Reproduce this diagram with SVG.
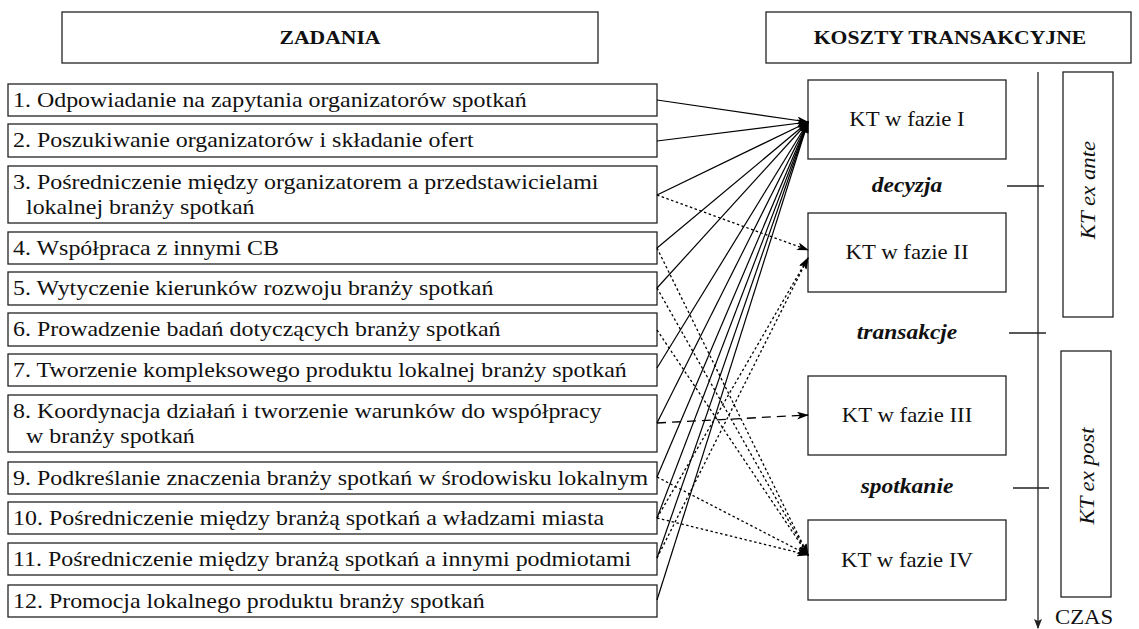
<svg xmlns="http://www.w3.org/2000/svg" width="1139" height="629" viewBox="0 0 1139 629" font-family="'Liberation Serif', 'DejaVu Serif', serif">
  <defs>
    <style>
      .box { fill: #fff; stroke: #222; stroke-width: 1.3; }
      .txt { font-family: 'Liberation Serif', 'DejaVu Serif', serif; fill: #111; }
      .task { font-size: 21px; }
      .head { font-size: 19px; font-weight: bold; text-anchor: middle; }
      .kt { font-size: 20px; text-anchor: middle; }
      .stage { font-size: 21px; font-weight: bold; font-style: italic; text-anchor: middle; }
      .side { font-size: 20px; font-style: italic; text-anchor: middle; }
      .czas { font-size: 20px; }
      .solid { fill: none; stroke: #000; stroke-width: 1.2; marker-end: url(#arr); }
      .dot { fill: none; stroke: #000; stroke-width: 1.3; stroke-dasharray: 2.5 2.5; marker-end: url(#arr); }
      .dash { fill: none; stroke: #000; stroke-width: 1.3; stroke-dasharray: 9 6; marker-end: url(#arr); }
      .axis { fill: none; stroke: #222; stroke-width: 1.3; }
    </style>
    <marker id="arr" viewBox="0 0 12 8" refX="11" refY="4" markerWidth="12" markerHeight="8" markerUnits="userSpaceOnUse" orient="auto">
      <path d="M0,0 L12,4 L0,8 L3,4 Z" fill="#000"/>
    </marker>
    <marker id="down" viewBox="0 0 10 8" refX="9" refY="4" markerWidth="10" markerHeight="8" markerUnits="userSpaceOnUse" orient="auto">
      <path d="M0,0 L10,4 L0,8 L2,4 Z" fill="#222"/>
    </marker>
  </defs>

  <!-- column headers -->
  <g id="hdr-zadania">
    <rect class="box" x="62" y="12" width="536" height="51"/>
    <text class="txt head" transform="translate(330,44) scale(1.14,1)">ZADANIA</text>
  </g>
  <g id="hdr-koszty">
    <rect class="box" x="766" y="12" width="365" height="51"/>
    <text class="txt head" transform="translate(950,44) scale(1.14,1)">KOSZTY TRANSAKCYJNE</text>
  </g>

  <!-- tasks -->
  <g id="task-1">
    <rect class="box" x="8" y="84" width="649" height="32"/>
    <text class="txt task" transform="translate(13,107) scale(1.14,1)">1. Odpowiadanie na zapytania organizatorów spotkań</text>
  </g>
  <g id="task-2">
    <rect class="box" x="8" y="124" width="649" height="33"/>
    <text class="txt task" transform="translate(13,147) scale(1.14,1)">2. Poszukiwanie organizatorów i składanie ofert</text>
  </g>
  <g id="task-3">
    <rect class="box" x="8" y="166" width="649" height="57"/>
    <text class="txt task" transform="translate(13,189) scale(1.14,1)">3. Pośredniczenie między organizatorem a przedstawicielami</text>
    <text class="txt task" transform="translate(26,214) scale(1.14,1)">lokalnej branży spotkań</text>
  </g>
  <g id="task-4">
    <rect class="box" x="8" y="232" width="649" height="32"/>
    <text class="txt task" transform="translate(13,255) scale(1.14,1)">4. Współpraca z innymi CB</text>
  </g>
  <g id="task-5">
    <rect class="box" x="8" y="272" width="649" height="33"/>
    <text class="txt task" transform="translate(13,295) scale(1.14,1)">5. Wytyczenie kierunków rozwoju branży spotkań</text>
  </g>
  <g id="task-6">
    <rect class="box" x="8" y="313" width="649" height="33"/>
    <text class="txt task" transform="translate(13,336) scale(1.14,1)">6. Prowadzenie badań dotyczących branży spotkań</text>
  </g>
  <g id="task-7">
    <rect class="box" x="8" y="354" width="649" height="32"/>
    <text class="txt task" transform="translate(13,377) scale(1.14,1)">7. Tworzenie kompleksowego produktu lokalnej branży spotkań</text>
  </g>
  <g id="task-8">
    <rect class="box" x="8" y="395" width="649" height="57"/>
    <text class="txt task" transform="translate(13,418) scale(1.14,1)">8. Koordynacja działań i tworzenie warunków do współpracy</text>
    <text class="txt task" transform="translate(26,443) scale(1.14,1)">w branży spotkań</text>
  </g>
  <g id="task-9">
    <rect class="box" x="8" y="462" width="649" height="32"/>
    <text class="txt task" transform="translate(13,485) scale(1.14,1)">9. Podkreślanie znaczenia branży spotkań w środowisku lokalnym</text>
  </g>
  <g id="task-10">
    <rect class="box" x="8" y="502" width="649" height="32"/>
    <text class="txt task" transform="translate(13,525) scale(1.14,1)">10. Pośredniczenie między branżą spotkań a władzami miasta</text>
  </g>
  <g id="task-11">
    <rect class="box" x="8" y="543" width="649" height="32"/>
    <text class="txt task" transform="translate(13,566) scale(1.14,1)">11. Pośredniczenie między branżą spotkań a innymi podmiotami</text>
  </g>
  <g id="task-12">
    <rect class="box" x="8" y="585" width="649" height="32"/>
    <text class="txt task" transform="translate(13,608) scale(1.14,1)">12. Promocja lokalnego produktu branży spotkań</text>
  </g>

  <!-- cost phases -->
  <g id="kt-1">
    <rect class="box" x="808" y="80" width="198" height="79"/>
    <text class="txt kt" transform="translate(907,126) scale(1.14,1)">KT w fazie I</text>
  </g>
  <g id="kt-2">
    <rect class="box" x="808" y="213" width="198" height="79"/>
    <text class="txt kt" transform="translate(907,259) scale(1.14,1)">KT w fazie II</text>
  </g>
  <g id="kt-3">
    <rect class="box" x="808" y="376" width="198" height="79"/>
    <text class="txt kt" transform="translate(907,422) scale(1.14,1)">KT w fazie III</text>
  </g>
  <g id="kt-4">
    <rect class="box" x="808" y="520" width="198" height="80"/>
    <text class="txt kt" transform="translate(907,567) scale(1.14,1)">KT w fazie IV</text>
  </g>

  <!-- stage labels between phases -->
  <g id="stage-decyzja">
    <text class="txt stage" transform="translate(907,192) scale(1.12,1)">decyzja</text>
  </g>
  <g id="stage-transakcje">
    <text class="txt stage" transform="translate(907,339) scale(1.12,1)">transakcje</text>
  </g>
  <g id="stage-spotkanie">
    <text class="txt stage" transform="translate(907,493) scale(1.12,1)">spotkanie</text>
  </g>

  <!-- time axis with stage ticks -->
  <g id="time-axis">
    <line class="axis" x1="1038" y1="72" x2="1038" y2="628" marker-end="url(#down)"/>
    <line class="axis" x1="1007" y1="186" x2="1044" y2="186"/>
    <line class="axis" x1="1009" y1="333" x2="1046" y2="333"/>
    <line class="axis" x1="1013" y1="488" x2="1049" y2="488"/>
    <text class="txt czas" transform="translate(1055,624) scale(1.14,1)">CZAS</text>
  </g>

  <!-- ex ante / ex post brackets -->
  <g id="ex-ante">
    <rect class="box" x="1063" y="72" width="50" height="245"/>
    <text class="txt side" transform="translate(1095,190) rotate(-90) scale(1.14,1)">KT ex ante</text>
  </g>
  <g id="ex-post">
    <rect class="box" x="1061" y="351" width="50" height="246"/>
    <text class="txt side" transform="translate(1094,476) rotate(-90) scale(1.14,1)">KT ex post</text>
  </g>

  <!-- connectors: tasks to cost phases -->
  <g id="connectors">
    <line class="solid" x1="657" y1="100" x2="808" y2="122"/>
    <line class="solid" x1="657" y1="141" x2="808" y2="122"/>
    <line class="solid" x1="657" y1="195" x2="808" y2="122"/>
    <line class="solid" x1="657" y1="248" x2="808" y2="122"/>
    <line class="solid" x1="657" y1="288" x2="808" y2="122"/>
    <line class="solid" x1="657" y1="368" x2="808" y2="122"/>
    <line class="solid" x1="657" y1="423" x2="808" y2="122"/>
    <line class="solid" x1="657" y1="477" x2="808" y2="122"/>
    <line class="solid" x1="657" y1="518" x2="808" y2="122"/>
    <line class="solid" x1="657" y1="558" x2="808" y2="122"/>
    <line class="solid" x1="657" y1="600" x2="808" y2="122"/>

    <line class="dot" x1="657" y1="195" x2="808" y2="250"/>
    <line class="dot" x1="657" y1="518" x2="808" y2="258"/>
    <line class="dot" x1="657" y1="558" x2="808" y2="258"/>

    <line class="dash" x1="657" y1="423" x2="808" y2="415"/>

    <line class="dot" x1="657" y1="248" x2="808" y2="555"/>
    <line class="dot" x1="657" y1="288" x2="808" y2="555"/>
    <line class="dot" x1="657" y1="330" x2="808" y2="555"/>
    <line class="dot" x1="657" y1="477" x2="808" y2="555"/>
    <line class="dot" x1="657" y1="518" x2="808" y2="555"/>
  </g>
</svg>
